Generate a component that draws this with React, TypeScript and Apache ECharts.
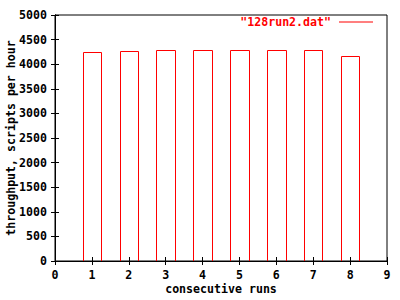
import React, { useEffect, useRef } from "react";
import * as echarts from "echarts";

const runs = [1, 2, 3, 4, 5, 6, 7, 8];
const throughput = [4240, 4260, 4280, 4280, 4280, 4280, 4280, 4160];
const xTicks = [0, 1, 2, 3, 4, 5, 6, 7, 8, 9];
const seriesName = '"128run2.dat"';
const boxWidth = 0.5;

const FONT = "'DejaVu Sans Mono', 'Liberation Mono', monospace";
const FS = 11.6;

export default function App() {
  const ref = useRef<HTMLDivElement>(null);
  useEffect(() => {
    if (!ref.current) return;
    const chart = echarts.init(ref.current, null, { renderer: "svg" });
    const data = runs.map((r, i) => [r, throughput[i]]);
    const tickStyle = { show: true, inside: true, length: 4, lineStyle: { color: "#000", width: 1 } };
    chart.setOption({
      animation: false,
      backgroundColor: "#fff",
      textStyle: { fontFamily: FONT, fontWeight: "bold" },
      grid: {
        left: 55, right: 13, top: 15, bottom: 39,
        containLabel: false,
        outerBoundsMode: "none",
        show: true, borderColor: "#000", borderWidth: 1, backgroundColor: "transparent",
      },
      legend: {
        show: true,
        data: [{ name: seriesName, itemStyle: { color: "#ff0000", borderWidth: 0 } }],
        right: 27,
        top: 16,
        align: "right",
        icon: "rect",
        itemWidth: 34,
        itemHeight: 1,
        itemGap: 0,
        padding: 0,
        textStyle: { color: "#ff0000", fontFamily: FONT, fontWeight: "bold", fontSize: FS, padding: [0, 3, 0, 0] },
      },
      xAxis: [
        {
          type: "value",
          min: 0,
          max: 9,
          interval: 1,
          name: "consecutive runs",
          nameLocation: "middle",
          nameGap: 22,
          nameMoveOverlap: false,
          nameTextStyle: { color: "#000", fontFamily: FONT, fontWeight: "bold", fontSize: FS },
          axisLine: { show: true, lineStyle: { color: "#000", width: 1 } },
          axisTick: tickStyle,
          axisLabel: { color: "#000", fontFamily: FONT, fontWeight: "bold", fontSize: FS, margin: 8, formatter: (v: number) => String(v) },
          splitLine: { show: false },
        },
        {
          type: "value",
          position: "top",
          min: 0,
          max: 9,
          interval: 1,
          axisLine: { show: true, lineStyle: { color: "#000", width: 1 } },
          axisTick: tickStyle,
          axisLabel: { show: false },
          splitLine: { show: false },
        },
      ],
      yAxis: [
        {
          type: "value",
          min: 0,
          max: 5000,
          interval: 500,
          name: "throughput, scripts per hour",
          nameLocation: "middle",
          nameGap: 38,
          nameMoveOverlap: false,
          nameRotate: 90,
          nameTextStyle: { color: "#000", fontFamily: FONT, fontWeight: "bold", fontSize: FS },
          axisLine: { show: true, lineStyle: { color: "#000", width: 1 } },
          axisTick: tickStyle,
          axisLabel: { color: "#000", fontFamily: FONT, fontWeight: "bold", fontSize: FS, margin: 8, formatter: (v: number) => String(v) },
          splitLine: { show: false },
        },
        {
          type: "value",
          position: "right",
          min: 0,
          max: 5000,
          interval: 500,
          axisLine: { show: true, lineStyle: { color: "#000", width: 1 } },
          axisTick: tickStyle,
          axisLabel: { show: false },
          splitLine: { show: false },
        },
      ],
      series: [
        {
          name: seriesName,
          type: "custom",
          xAxisIndex: 0,
          yAxisIndex: 0,
          data,
          itemStyle: { color: "#ff0000" },
          renderItem: (params: any, api: any) => {
            const x = api.value(0);
            const y = api.value(1);
            const topLeft = api.coord([x - boxWidth / 2, y]);
            const bottomRight = api.coord([x + boxWidth / 2, 0]);
            return {
              type: "polyline",
              shape: {
                points: [
                  [Math.round(topLeft[0]) + 0.5, bottomRight[1]],
                  [Math.round(topLeft[0]) + 0.5, Math.round(topLeft[1]) + 0.5],
                  [Math.round(bottomRight[0]) + 0.5, Math.round(topLeft[1]) + 0.5],
                  [Math.round(bottomRight[0]) + 0.5, bottomRight[1]],
                ],
              },
              style: { stroke: "#ff0000", fill: "none", lineWidth: 1 },
            };
          },
        },
      ],
    });
    return () => chart.dispose();
  }, []);
  return <div ref={ref} style={{ width: 400, height: 300, position: "absolute", left: 0, top: 0 }} />;
}
